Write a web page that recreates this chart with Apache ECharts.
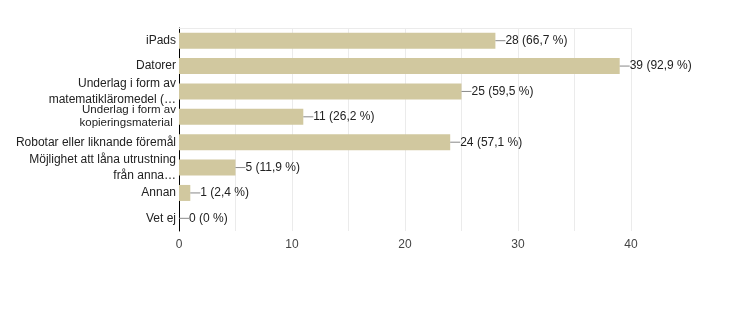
<!DOCTYPE html>
<html><head><meta charset="utf-8">
<script src="https://cdn.jsdelivr.net/npm/echarts@6/dist/echarts.min.js"></script>
<style>html,body{margin:0;padding:0;background:#fff}#c{width:731px;height:325px}</style>
</head><body><div id="c"></div>
<script>
const categories = [
  "iPads",
  "Datorer",
  "Underlag i form av\nmatematikläromedel (…",
  "Underlag i form av\nkopieringsmaterial ",
  "Robotar eller liknande föremål",
  "Möjlighet att låna utrustning\nfrån anna…",
  "Annan",
  "Vet ej"
];
const counts = [28, 39, 25, 11, 24, 5, 1, 0];
const percents = ["66,7", "92,9", "59,5", "26,2", "57,1", "11,9", "2,4", "0"];
const xTicks = [0, 10, 20, 30, 40];

const chart = echarts.init(document.getElementById('c'));
chart.setOption({
  animation: false,
  textStyle: {fontFamily: 'Liberation Sans, Arial, sans-serif'},
  grid: {left: 179, right: 100, top: 28, bottom: 94},
  xAxis: [{
    type: 'value', min: 0, max: 40, interval: 5,
    axisLine: {show: false}, axisTick: {show: false},
    splitLine: {lineStyle: {color: '#ebebeb', width: 1}},
    axisLabel: {color: '#444', fontSize: 12, margin: 8,
      formatter: v => xTicks.indexOf(v) >= 0 ? String(v) : ''}
  }, {
    type: 'value', position: 'top', min: 0, max: 40,
    axisLine: {show: true, lineStyle: {color: '#ebebeb'}},
    axisTick: {show: false}, axisLabel: {show: false}, splitLine: {show: false}
  }],
  yAxis: {
    type: 'category', inverse: true, data: categories,
    axisLine: {show: true, lineStyle: {color: '#000', width: 1}},
    axisTick: {show: false},
    axisLabel: {color: '#222', fontSize: 12, lineHeight: 16, margin: 3,
      formatter: (v, i) => i === 3 ? v.split('\n').map(s => '{s|' + s + '}').join('\n') : v,
      rich: {s: {fontSize: 11.5, lineHeight: 13, color: '#222'}}}
  },
  series: [{
    type: 'bar', data: counts, barWidth: 16,
    itemStyle: {color: '#d1c89f'},
    label: {
      show: true, position: 'right', distance: 0,
      formatter: p => '{ln|}' + p.value + ' (' + percents[p.dataIndex] + ' %)',
      color: '#222', fontSize: 12,
      rich: {ln: {width: 10, height: 1, backgroundColor: '#888', padding: 0}}
    }
  }]
});
</script></body></html>
